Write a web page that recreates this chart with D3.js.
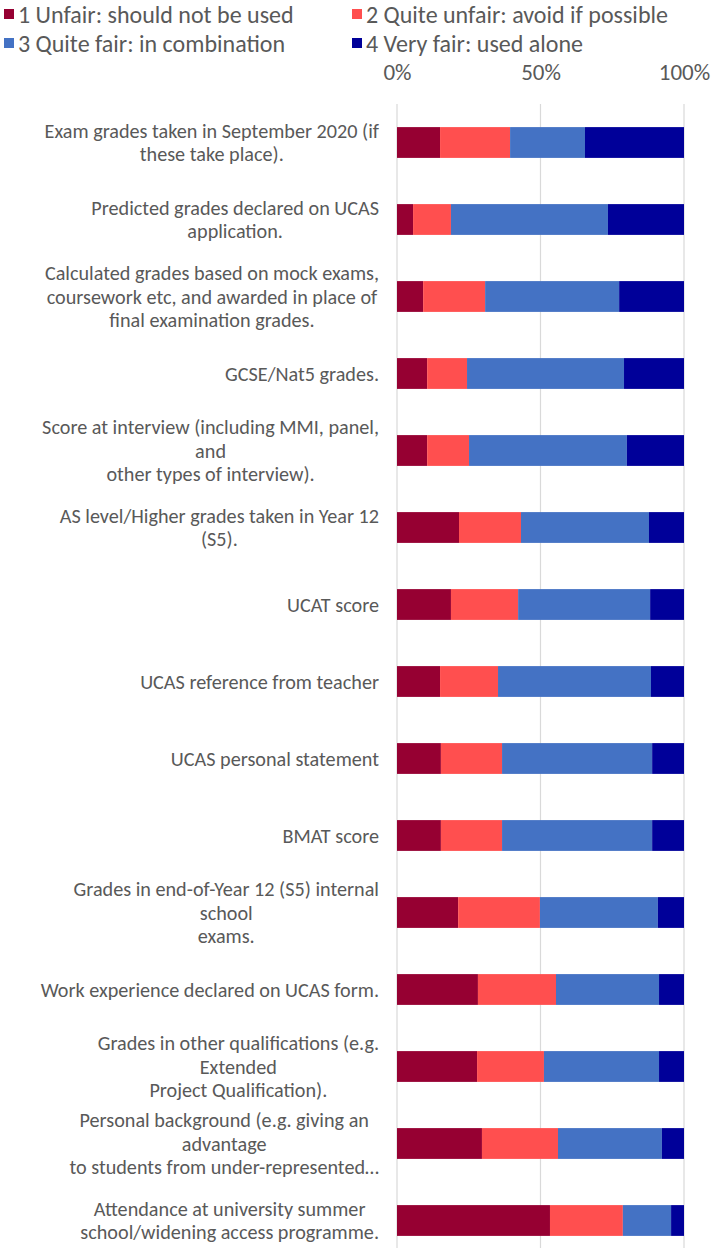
<!DOCTYPE html>
<html>
<head>
<meta charset="utf-8">
<script src="https://cdn.jsdelivr.net/npm/d3@7"></script>
<style>
  html, body { margin: 0; padding: 0; background: #fff; }
  svg { display: block; }
  text { font-family: Carlito, Lato, "Open Sans", sans-serif; fill: #595959; }
</style>
</head>
<body>
<svg id="chart" width="712" height="1248"></svg>
<script>
const categories = [
  "Exam grades taken in September 2020 (if\nthese take place).",
  "Predicted grades declared on UCAS\napplication.",
  "Calculated grades based on mock exams,\ncoursework etc, and awarded in place of\nfinal examination grades.",
  "GCSE/Nat5 grades.",
  "Score at interview (including MMI, panel,\nand\nother types of interview).",
  "AS level/Higher grades taken in Year 12\n(S5).",
  "UCAT score",
  "UCAS reference from teacher",
  "UCAS personal statement",
  "BMAT score",
  "Grades in end-of-Year 12 (S5) internal\nschool\nexams.",
  "Work experience declared on UCAS form.",
  "Grades in other qualifications (e.g.\nExtended\nProject Qualification).",
  "Personal background (e.g. giving an\nadvantage\nto students from under-represented…",
  "Attendance at university summer\nschool/widening access programme."
];
const seriesNames = [
  "1 Unfair: should not be used",
  "2 Quite unfair: avoid if possible",
  "3 Quite fair: in combination",
  "4 Very fair: used alone"
];
const unfair      = [15.0, 5.6, 9.1, 10.5, 10.5, 21.6, 18.8, 15.0, 15.3, 15.3, 21.3, 28.2, 27.9, 29.6, 53.3];
const quiteUnfair = [24.4, 13.2, 21.6, 13.9, 14.6, 21.6, 23.4, 20.2, 21.3, 21.3, 28.5, 27.2, 23.3, 26.5, 25.4];
const quiteFair   = [26.1, 54.7, 46.7, 54.7, 55.0, 44.6, 46.0, 53.3, 52.3, 52.3, 41.1, 35.9, 40.1, 36.2, 16.8];
const veryFair    = [34.5, 26.5, 22.6, 20.9, 19.9, 12.2, 11.8, 11.5, 11.1, 11.1, 9.1, 8.7, 8.7, 7.7, 4.5];
const tickValues = [0, 0.5, 1];
const tickLabels = ["0%", "50%", "100%"];
const colors = ["#960032", "#FF4F4F", "#4472C4", "#000099"];

const table = categories.map((c, i) => ({
  cat: c, s0: unfair[i], s1: quiteUnfair[i], s2: quiteFair[i], s3: veryFair[i]
}));
const keys = ["s0", "s1", "s2", "s3"];
const stacked = d3.stack().keys(keys).offset(d3.stackOffsetExpand)(table);

const svg = d3.select("#chart");
const plotLeft = 397, plotRight = 684, plotTop = 104, step = 77;

const x = d3.scaleLinear().domain([0, 1]).range([plotLeft, plotRight]);
const y = d3.scaleBand().domain(categories).range([plotTop, plotTop + step * categories.length])
  .paddingInner(0.6).paddingOuter(0.3);

// gridlines
svg.append("g").selectAll("line").data(tickValues).join("line")
  .attr("x1", d => x(d)).attr("x2", d => x(d))
  .attr("y1", plotTop).attr("y2", plotTop + step * categories.length)
  .attr("stroke", "#d9d9d9").attr("stroke-width", 1.2);

// bars
svg.append("g").selectAll("g").data(stacked).join("g")
  .attr("fill", (d, i) => colors[i])
  .selectAll("rect").data(d => d).join("rect")
  .attr("x", d => x(d[0]))
  .attr("width", d => x(d[1]) - x(d[0]))
  .attr("y", d => y(d.data.cat))
  .attr("height", y.bandwidth());

// top axis
const axis = d3.axisTop(x).tickValues(tickValues).tickFormat((d, i) => tickLabels[i]).tickSize(0);
const ag = svg.append("g").attr("transform", "translate(0,83)").call(axis);
ag.select(".domain").remove();
ag.selectAll("text").attr("font-size", 23).attr("dy", 0)
  .style("font-family", "Carlito, Lato, 'Open Sans', sans-serif").attr("fill", "#595959");

// category labels
const labelRight = 379, lineH = 23.5;
const lg = svg.append("g");
categories.forEach(c => {
  const lines = c.split("\n");
  const g = lg.append("g");
  const cy = y(c) + y.bandwidth() / 2;
  const texts = lines.map((ln, j) => g.append("text")
    .attr("font-size", 20.2)
    .attr("text-anchor", "middle")
    .attr("dominant-baseline", "central")
    .attr("y", cy + (j - (lines.length - 1) / 2) * lineH)
    .text(ln));
  const maxW = d3.max(texts, t => t.node().getComputedTextLength());
  texts.forEach(t => t.attr("x", labelRight - maxW / 2));
});

// legend
const legPos = [[4, 14], [352, 14], [4, 43], [352, 43]];
const leg = svg.append("g").selectAll("g").data(seriesNames).join("g")
  .attr("transform", (d, i) => `translate(${legPos[i][0]},${legPos[i][1]})`);
leg.append("rect").attr("x", 0).attr("y", -5).attr("width", 10).attr("height", 10)
  .attr("fill", (d, i) => colors[i]);
leg.append("text").attr("x", 14).attr("y", 0).attr("dominant-baseline", "central")
  .attr("font-size", 24).text(d => d);
</script>
</body>
</html>
